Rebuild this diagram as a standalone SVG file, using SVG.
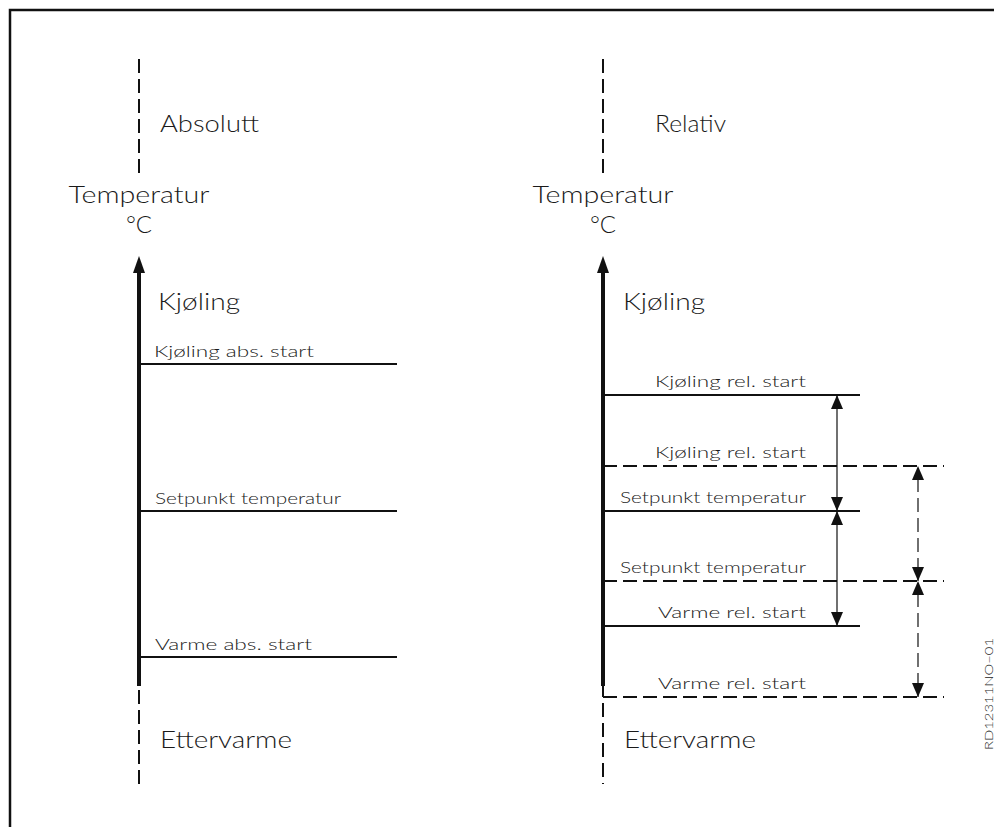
<svg xmlns="http://www.w3.org/2000/svg" width="994" height="827" viewBox="0 0 994 827">
<style>
.t{font-family:"Lato","Liberation Sans",sans-serif;font-weight:300;fill:#1a1a1a}
.big{font-size:24px}
.sm{font-size:15px}
.ax{stroke:#111;stroke-width:4;fill:none}
.dv{stroke:#111;stroke-width:2;stroke-dasharray:14 6;fill:none}
.ln{stroke:#111;stroke-width:2;fill:none}
.dl{stroke:#111;stroke-width:2;stroke-dasharray:14 6;fill:none}
.dim{stroke:#111;stroke-width:1.2;fill:none}
.dimd{stroke:#111;stroke-width:1.2;stroke-dasharray:14 6;fill:none}
.ah{fill:#111}
</style>
<rect width="994" height="827" fill="#fff"/>
<path d="M10,827 V10 H994" stroke="#111" stroke-width="2.5" fill="none"/>

<g id="left-axis">
<line class="dv" x1="139" y1="59" x2="139" y2="176"/>
<polygon class="ah" points="139,256 133,273 145,273"/>
<line class="ax" x1="139" y1="270" x2="139" y2="686"/>
<line class="dv" x1="139" y1="690" x2="139" y2="784"/>
<text class="t big" x="160" y="132" textLength="99" lengthAdjust="spacingAndGlyphs">Absolutt</text>
<text class="t big" x="139" y="203" text-anchor="middle" textLength="141" lengthAdjust="spacingAndGlyphs">Temperatur</text>
<text class="t big" x="139" y="233" text-anchor="middle">°C</text>
<text class="t big" x="158" y="310" textLength="82" lengthAdjust="spacingAndGlyphs">Kjøling</text>
<text class="t big" x="160" y="748" textLength="132" lengthAdjust="spacingAndGlyphs">Ettervarme</text>
</g>

<g id="left-kjoling-abs">
<line class="ln" x1="139" y1="364" x2="397" y2="364"/>
<text class="t sm" x="154" y="357" textLength="160" lengthAdjust="spacingAndGlyphs">Kjøling  abs.  start</text>
</g>
<g id="left-setpunkt">
<line class="ln" x1="139" y1="511" x2="397" y2="511"/>
<text class="t sm" x="155" y="504" textLength="186" lengthAdjust="spacingAndGlyphs">Setpunkt  temperatur</text>
</g>
<g id="left-varme-abs">
<line class="ln" x1="139" y1="657" x2="397" y2="657"/>
<text class="t sm" x="155" y="650" textLength="157" lengthAdjust="spacingAndGlyphs">Varme  abs.  start</text>
</g>

<g id="right-axis">
<line class="dv" x1="603" y1="59" x2="603" y2="176"/>
<polygon class="ah" points="603,256 597,273 609,273"/>
<line class="ax" x1="603" y1="270" x2="603" y2="686"/>
<line class="ln" x1="603" y1="686" x2="603" y2="697"/>
<line class="dv" x1="603" y1="703" x2="603" y2="784"/>
<text class="t big" x="655" y="132" textLength="71" lengthAdjust="spacingAndGlyphs">Relativ</text>
<text class="t big" x="603" y="203" text-anchor="middle" textLength="141" lengthAdjust="spacingAndGlyphs">Temperatur</text>
<text class="t big" x="603" y="233" text-anchor="middle">°C</text>
<text class="t big" x="623" y="310" textLength="82" lengthAdjust="spacingAndGlyphs">Kjøling</text>
<text class="t big" x="624" y="748" textLength="132" lengthAdjust="spacingAndGlyphs">Ettervarme</text>
</g>

<g id="right-kjoling-rel">
<line class="ln" x1="603" y1="395" x2="860" y2="395"/>
<text class="t sm" x="806" y="387" text-anchor="end" textLength="151" lengthAdjust="spacingAndGlyphs">Kjøling  rel.  start</text>
</g>
<g id="right-kjoling-rel-2">
<line class="dl" x1="603" y1="466" x2="944" y2="466"/>
<text class="t sm" x="806" y="458" text-anchor="end" textLength="151" lengthAdjust="spacingAndGlyphs">Kjøling  rel.  start</text>
</g>
<g id="right-setpunkt">
<line class="ln" x1="603" y1="511" x2="860" y2="511"/>
<text class="t sm" x="806" y="503" text-anchor="end" textLength="186" lengthAdjust="spacingAndGlyphs">Setpunkt  temperatur</text>
</g>
<g id="right-setpunkt-2">
<line class="dl" x1="603" y1="581" x2="944" y2="581"/>
<text class="t sm" x="806" y="573" text-anchor="end" textLength="186" lengthAdjust="spacingAndGlyphs">Setpunkt  temperatur</text>
</g>
<g id="right-varme-rel">
<line class="ln" x1="603" y1="626" x2="860" y2="626"/>
<text class="t sm" x="806" y="618" text-anchor="end" textLength="148" lengthAdjust="spacingAndGlyphs">Varme  rel.  start</text>
</g>
<g id="right-varme-rel-2">
<line class="dl" x1="603" y1="697" x2="944" y2="697"/>
<text class="t sm" x="806" y="689" text-anchor="end" textLength="148" lengthAdjust="spacingAndGlyphs">Varme  rel.  start</text>
</g>

<g id="connectors">
<line class="dim" x1="837" y1="395" x2="837" y2="511"/>
<polygon class="ah" points="837,395 831,409 843,409"/>
<polygon class="ah" points="837,511 831,497 843,497"/>
<line class="dim" x1="837" y1="511" x2="837" y2="626"/>
<polygon class="ah" points="837,511 831,525 843,525"/>
<polygon class="ah" points="837,626 831,612 843,612"/>
<line class="dimd" x1="918" y1="478" x2="918" y2="581"/>
<polygon class="ah" points="918,466 912,480 924,480"/>
<polygon class="ah" points="918,581 912,567 924,567"/>
<line class="dimd" x1="918" y1="593" x2="918" y2="697"/>
<polygon class="ah" points="918,581 912,595 924,595"/>
<polygon class="ah" points="918,697 912,683 924,683"/>
</g>

<text class="t" x="0" y="0" font-size="11" transform="translate(993,750) rotate(-90)" textLength="112" lengthAdjust="spacingAndGlyphs">RD12311NO−01</text>
</svg>
